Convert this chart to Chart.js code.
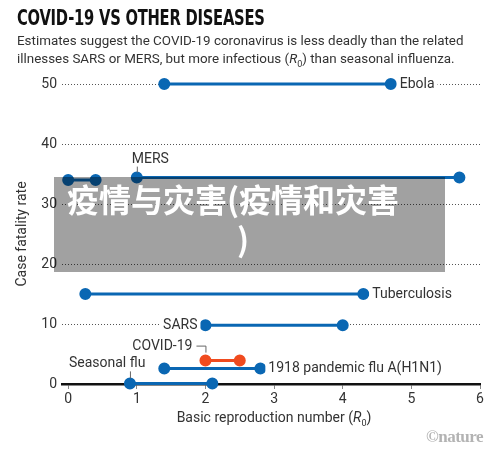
<!DOCTYPE html>
<html><head><meta charset="utf-8">
<script src="https://cdn.jsdelivr.net/npm/chart.js@4/dist/chart.umd.min.js"></script>
<style>
html,body{margin:0;padding:0;background:#fff;}
#wrap{position:relative;width:500px;height:450px;overflow:hidden;font-family:Roboto,"Liberation Sans",sans-serif;}
#c{position:absolute;left:0;top:0;}
#title{position:absolute;left:17px;top:6px;font-family:"DejaVu Sans Condensed","DejaVu Sans",sans-serif;font-weight:bold;font-size:21px;color:#111;transform-origin:0 0;transform:scaleX(0.78);white-space:nowrap;letter-spacing:-0.3px;}
#sub{position:absolute;left:17px;top:32px;font-size:13.4px;line-height:17.5px;color:#333;white-space:nowrap;}
#xt{position:absolute;left:0;width:548px;top:409px;text-align:center;font-size:14px;color:#333;}
#nat{position:absolute;left:426px;top:427px;font-family:"Liberation Serif",serif;font-weight:bold;font-size:17px;color:#b3b3b3;letter-spacing:-0.5px;}
#ov{position:absolute;left:54px;top:177px;width:391px;height:95px;background:rgba(0,0,0,0.37);}
#ov div{position:absolute;color:#fff;font-family:"Noto Sans CJK SC",sans-serif;font-weight:bold;font-size:32px;line-height:40px;white-space:nowrap;}
</style></head>
<body><div id="wrap">
<canvas id="c" width="500" height="450"></canvas>
<div id="title">COVID-19 VS OTHER DISEASES</div>
<div id="sub">Estimates suggest the COVID-19 coronavirus is less deadly than the related<br>illnesses SARS or MERS, but more infectious (<i>R</i><sub style="font-size:9px">0</sub>) than seasonal influenza.</div>
<div id="xt">Basic reproduction number (<i>R</i><sub style="font-size:9px">0</sub>)</div>
<div id="nat">©nature</div>
<div id="ov"><div style="left:13px;top:1px;">疫情与灾害(疫情和灾害</div><div style="left:183px;top:41px;">)</div></div>
</div>
<script>
const diseases = ["Ebola","MERS","Unlabelled","Tuberculosis","SARS","COVID-19","1918 pandemic flu A(H1N1)","Seasonal flu"];
const r0Low  = [1.4, 1.0, 0.0, 0.25, 2.0, 2.0, 1.4, 0.9];
const r0High = [4.7, 5.7, 0.4, 4.3, 4.0, 2.5, 2.8, 2.1];
const fatality = [50, 34.4, 34.0, 15, 9.8, 3.9, 2.6, 0.1];
const lineColors = ["#0a67b3","#0a67b3","#0a67b3","#0a67b3","#0a67b3","#f04b1f","#0a67b3","#0a67b3"];
const xTicks = [0,1,2,3,4,5,6];
const yTicks = [0,10,20,30,40,50];

const datasets = diseases.map((d,i)=>({
  label:d,
  data:[{x:r0Low[i],y:fatality[i]},{x:r0High[i],y:fatality[i]}],
  borderColor:lineColors[i], backgroundColor:lineColors[i],
  borderWidth:3, pointRadius:4.5, pointHoverRadius:4.5, showLine:true, clip:false
}));

const labelPlugin = {
  id:'labels',
  afterDatasetsDraw(chart){
    const ctx = chart.ctx, xs = chart.scales.x, ys = chart.scales.y;
    ctx.save();
    ctx.font = '14px Roboto, "Liberation Sans", sans-serif';
    ctx.textBaseline = 'middle';
    function lab(text, x, y, align){
      ctx.textAlign = align;
      const w = ctx.measureText(text).width;
      const lx = align==='left'? x : x - w;
      ctx.fillStyle = '#fff';
      ctx.fillRect(lx-3, y-8, w+6, 16);
      ctx.fillStyle = '#333';
      ctx.fillText(text, x, y+0.5);
    }
    const px = i=>xs.getPixelForValue(r0High[i]), pl = i=>xs.getPixelForValue(r0Low[i]), py = i=>ys.getPixelForValue(fatality[i]);
    lab(diseases[0], px(0)+9, py(0), 'left');
    lab(diseases[3], px(3)+9, py(3), 'left');
    lab(diseases[4], pl(4)-8, py(4), 'right');
    lab(diseases[6], px(6)+8, py(6), 'left');
    lab(diseases[1], pl(1)-5, py(1)-19, 'left');
    lab(diseases[5], pl(5)-13, py(5)-14.5, 'right');
    lab(diseases[7], pl(7)-61, py(7)-20.5, 'left');
    ctx.strokeStyle = '#666'; ctx.lineWidth = 1;
    ctx.beginPath();
    ctx.moveTo(pl(1)+0.5, py(1)-11); ctx.lineTo(pl(1)+0.5, py(1)-5);
    ctx.moveTo(pl(5)-9, py(5)-14.5); ctx.lineTo(pl(5)+0.5, py(5)-14.5); ctx.lineTo(pl(5)+0.5, py(5)-8);
    ctx.moveTo(pl(7)+0.5, py(7)-12); ctx.lineTo(pl(7)+0.5, py(7)-5);
    ctx.stroke();
    ctx.restore();
  }
};

new Chart(document.getElementById('c'), {
  type:'scatter',
  data:{datasets},
  options:{
    responsive:false, animation:false, events:[],
    layout:{padding:{top:84,right:20,bottom:0,left:0}},
    plugins:{legend:{display:false}, tooltip:{enabled:false}},
    scales:{
      x:{
        type:'linear', min:-0.09, max:6,
        afterBuildTicks(s){ s.ticks = xTicks.map(v=>({value:v})); },
        afterFit(s){ s.height = 66; },
        grid:{drawOnChartArea:false, drawTicks:true, tickLength:5, color:'#888', lineWidth:1},
        border:{display:true, color:'#111', width:2.5},
        ticks:{color:'#333', font:{size:14, family:'Roboto, "Liberation Sans", sans-serif'}, padding:2, maxRotation:0}
      },
      y:{
        type:'linear', min:0, max:50,
        afterBuildTicks(s){ s.ticks = yTicks.map(v=>({value:v})); },
        afterFit(s){ s.width = 62; },
        grid:{drawTicks:false, color:c=>c.tick && c.tick.value===0 ? 'rgba(0,0,0,0)' : '#555', lineWidth:1},
        border:{display:false, dash:[1,2]},
        ticks:{color:'#333', font:{size:14, family:'Roboto, "Liberation Sans", sans-serif'}, padding:5},
        title:{display:true, text:'Case fatality rate', color:'#333', font:{size:14, family:'Roboto, "Liberation Sans", sans-serif'}, padding:{top:14,bottom:0}}
      }
    }
  },
  plugins:[labelPlugin]
});
</script>
</body></html>
